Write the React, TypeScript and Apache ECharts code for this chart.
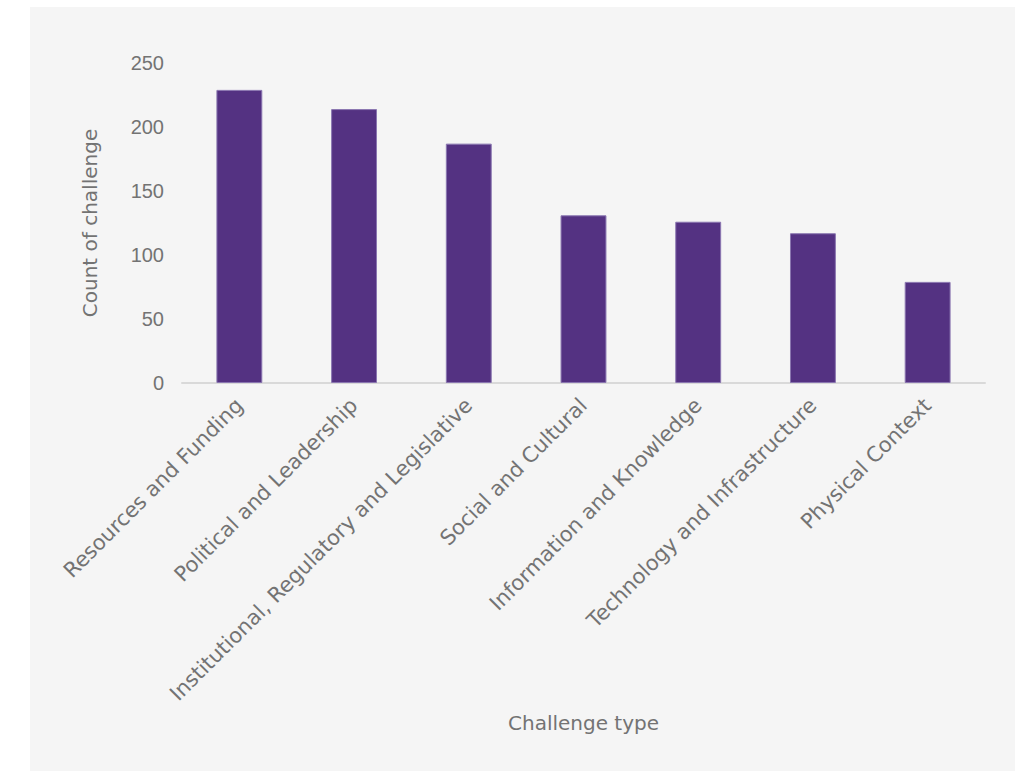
import React, { useEffect, useRef } from "react";
import * as echarts from "echarts";

const categories = [
  "Resources and Funding",
  "Political and Leadership",
  "Institutional, Regulatory and Legislative",
  "Social and Cultural",
  "Information and Knowledge",
  "Technology and Infrastructure",
  "Physical Context",
];
const counts = [229, 214, 187, 131, 126, 117, 79];
const yTicks = { min: 0, max: 250, interval: 50 };
const xAxisName = "Challenge type";
const yAxisName = "Count of challenge";

const labelFont = "'DejaVu Sans', sans-serif";

export default function App() {
  const ref = useRef<HTMLDivElement>(null);
  useEffect(() => {
    if (!ref.current) return;
    const chart = echarts.init(ref.current, undefined, { renderer: "svg" });
    chart.setOption({
      animation: false,
      backgroundColor: "#ffffff",
      graphic: [
        {
          type: "rect",
          left: 30,
          top: 7,
          shape: { width: 985, height: 764 },
          style: { fill: "#f5f5f5" },
          z: -10,
        },
      ],
      grid: { left: 182, right: 39, top: 63, bottom: 388 },
      xAxis: {
        type: "category",
        data: categories,
        name: xAxisName,
        nameLocation: "middle",
        nameGap: 330,
        nameTextStyle: { color: "#737373", fontSize: 20, fontFamily: labelFont },
        axisLine: { lineStyle: { color: "#d9d9d9", width: 2 } },
        axisTick: { show: false },
        axisLabel: {
          rotate: 45,
          interval: 0,
          margin: 19,
          color: "#737373",
          fontSize: 21,
          fontFamily: labelFont,
        },
      },
      yAxis: {
        type: "value",
        min: yTicks.min,
        max: yTicks.max,
        interval: yTicks.interval,
        name: yAxisName,
        nameLocation: "middle",
        nameGap: 82,
        nameRotate: 90,
        nameTextStyle: { color: "#737373", fontSize: 20, fontFamily: labelFont },
        splitLine: { show: false },
        axisLine: { show: false },
        axisTick: { show: false },
        axisLabel: {
          margin: 18,
          color: "#737373",
          fontSize: 20,
          fontFamily: "'Liberation Sans', Arial, sans-serif",
        },
      },
      series: [
        {
          type: "bar",
          data: counts,
          barWidth: "40%",
          itemStyle: {
            color: "#543282",
            borderColor: "#8a76b0",
            borderWidth: 1,
          },
        },
      ],
    });
    return () => chart.dispose();
  }, []);
  return (
    <div
      ref={ref}
      style={{ position: "absolute", left: 0, top: 0, width: 1024, height: 771 }}
    />
  );
}
